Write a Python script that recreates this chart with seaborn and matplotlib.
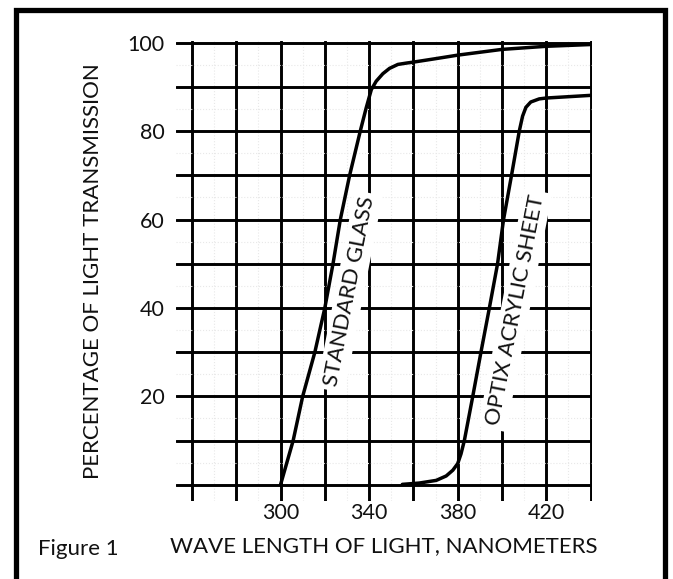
import numpy as np
import pandas as pd
import seaborn as sns
import matplotlib.pyplot as plt
from matplotlib.patches import Rectangle

# Values
glass_nm = [300, 305.7, 310, 315.5, 320, 323.7, 327, 331.2, 336, 338.7, 341, 343.2,
            346.2, 349.2, 353, 356.8, 359.7, 370, 380, 400, 420, 440]
glass_pct = [0, 10, 20, 30, 40, 50, 60, 70, 80, 85.3, 89.4, 91.3,
             93.0, 94.2, 95.1, 95.4, 95.6, 96.4, 97.2, 98.5, 99.2, 99.6]

optix_nm = [355, 362.7, 370.3, 374.8, 377.8, 380, 381.5, 383, 386.8, 390.5, 394.3,
            398, 400.7, 404.3, 407.8, 409.3, 410.8, 413, 416.8, 420, 440]
optix_pct = [0.1, 0.4, 1.0, 2.0, 3.3, 4.8, 7.0, 10, 20, 30, 40,
             50, 60, 70, 80, 83.4, 85.4, 86.6, 87.3, 87.5, 88.1]

x_ticks = [260, 280, 300, 320, 340, 360, 380, 400, 420, 440]
x_labels = ["", "", "300", "", "340", "", "380", "", "420", ""]
y_ticks = [0, 10, 20, 30, 40, 50, 60, 70, 80, 90, 100]
y_labels = ["", "", "20", "", "40", "", "60", "", "80", "", "100"]

df = pd.concat([
    pd.DataFrame({"wavelength": glass_nm, "transmission": glass_pct, "material": "STANDARD GLASS"}),
    pd.DataFrame({"wavelength": optix_nm, "transmission": optix_pct, "material": "OPTIX ACRYLIC SHEET"}),
])

sns.set_theme(style="white")
plt.rcParams["font.family"] = ["Lato", "DejaVu Sans"]

fig = plt.figure(figsize=(6.73, 5.79), dpi=100)
ax = fig.add_axes([0.2615, 0.1352, 0.618, 0.794])

# faint graph-paper lines
ax.set_xticks(np.arange(250, 441, 10), minor=True)
ax.set_yticks(np.arange(-5, 101, 5), minor=True)
ax.grid(True, which="minor", color="#e8e8e8", lw=0.8, ls=":")

ax.set_xticks(x_ticks)
ax.set_xticklabels(x_labels)
ax.set_yticks(y_ticks)
ax.set_yticklabels(y_labels)
ax.grid(True, which="major", color="black", lw=2.1)
ax.set_axisbelow(True)

sns.lineplot(data=df, x="wavelength", y="transmission", hue="material",
             palette={"STANDARD GLASS": "black", "OPTIX ACRYLIC SHEET": "black"},
             sort=False, estimator=None, legend=False, lw=2.5, ax=ax, zorder=3)

ax.set_xlim(252.8, 440.6)
ax.set_ylim(-3.6, 100.4)
for s in ax.spines.values():
    s.set_visible(False)
ax.tick_params(which="both", length=0, labelsize=15.5, colors="#111111")
ax.tick_params(axis="x", pad=2)
ax.tick_params(axis="y", pad=8)

ax.set_xlabel("WAVE LENGTH OF LIGHT, NANOMETERS", fontsize=16, color="#111111", labelpad=9)
ax.set_ylabel("PERCENTAGE OF LIGHT TRANSMISSION", fontsize=16, color="#111111", labelpad=18)

box = dict(facecolor="white", edgecolor="none", pad=3)
ax.text(331.2, 43.7, "STANDARD GLASS", rotation=79, rotation_mode="anchor",
        ha="center", va="center", fontsize=16, color="#111111", bbox=box, zorder=2.5)
ax.text(405.9, 39.5, "OPTIX ACRYLIC SHEET", rotation=79, rotation_mode="anchor",
        ha="center", va="center", fontsize=16, color="#111111", bbox=box, zorder=2.5)

fig.text(38 / 673, 1 - 549 / 579, "Figure 1", fontsize=16, color="#111111",
         ha="left", va="center")

# outer frame (open at the bottom)
fig.add_artist(Rectangle((15.5 / 673, -0.05), (664.5 - 15.5) / 673, 1.05 - 10 / 579,
                         transform=fig.transFigure, fill=False, ec="black", lw=3.8))

fig.savefig("out.png", dpi=100)
